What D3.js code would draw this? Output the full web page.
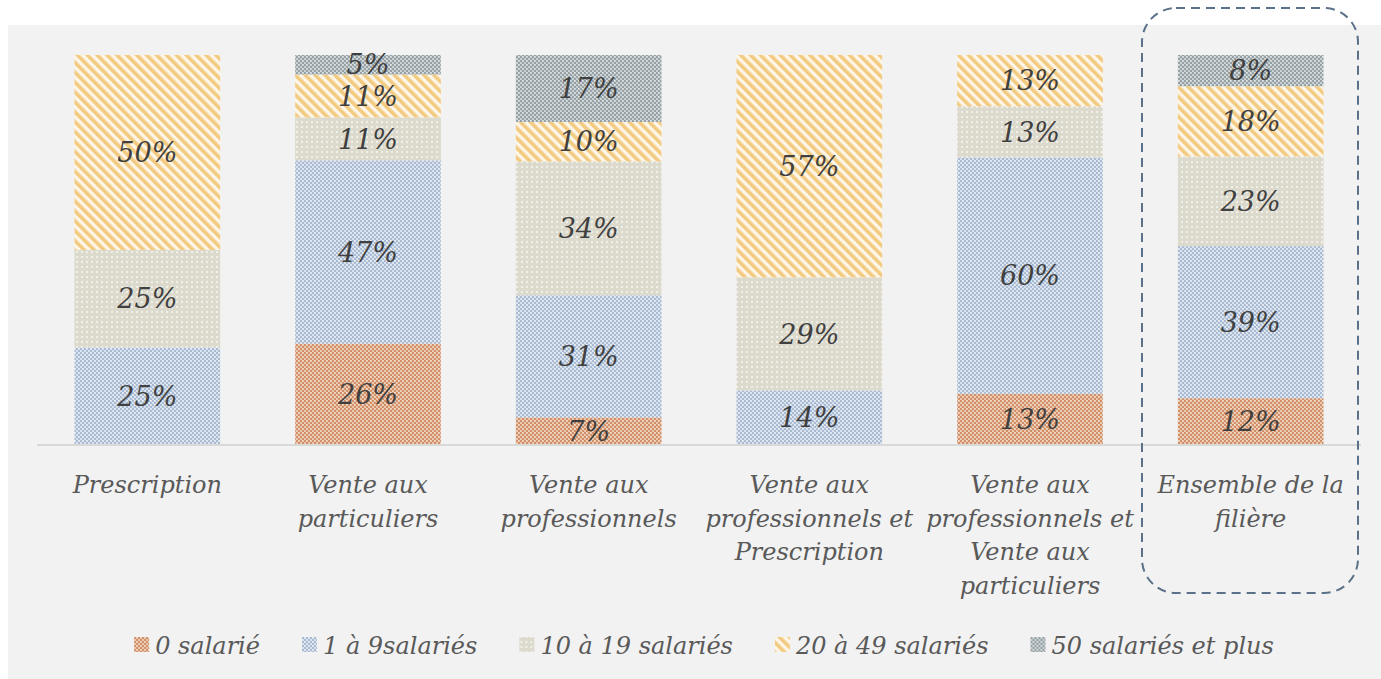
<!DOCTYPE html>
<html lang="fr">
<head>
<meta charset="UTF-8">
<title>Répartition par taille d'entreprise</title>
<script src="https://d3js.org/d3.v7.min.js"></script>
<style>
    body { margin: 0; background: #fff; }
    text { font-family: "DejaVu Serif", serif; font-style: italic; }
</style>
</head>
<body>
<script>
    // catégories (lignes de l'étiquette d'axe)
    const categories = ["Prescription", "Vente aux particuliers", "Vente aux professionnels",
        "Vente aux professionnels et Prescription", "Vente aux professionnels et Vente aux particuliers",
        "Ensemble de la filière"];
    const categoryLines = [
        ["Prescription"],
        ["Vente aux", "particuliers"],
        ["Vente aux", "professionnels"],
        ["Vente aux", "professionnels et", "Prescription"],
        ["Vente aux", "professionnels et", "Vente aux", "particuliers"],
        ["Ensemble de la", "filière"]
    ];
    const seriesNames = ["0 salarié", "1 à 9salariés", "10 à 19 salariés", "20 à 49 salariés", "50 salariés et plus"];
    // valeurs en %, une liste par série
    const s0 = [0, 26, 7, 0, 13, 12];
    const s1 = [25, 47, 31, 14, 60, 39];
    const s2 = [25, 11, 34, 29, 13, 23];
    const s3 = [50, 11, 10, 57, 13, 18];
    const s4 = [0, 5, 17, 0, 0, 8];
    const series = [s0, s1, s2, s3, s4];

    const W = 1381, H = 679;
    const svg = d3.select("body").append("svg").attr("width", W).attr("height", H);

    // motifs de remplissage
    const defs = svg.append("defs");
    function checker(id, c1, c2, dot) {
        const p = defs.append("pattern").attr("id", id).attr("patternUnits", "userSpaceOnUse")
            .attr("width", 4).attr("height", 4);
        p.append("rect").attr("width", 4).attr("height", 4).attr("fill", c1);
        p.append("rect").attr("width", 2).attr("height", 2).attr("fill", c2);
        p.append("rect").attr("x", 2).attr("y", 2).attr("width", 2).attr("height", 2).attr("fill", c2);
        if (dot) p.append("rect").attr("x", 2).attr("y", 0).attr("width", 1).attr("height", 1).attr("fill", dot);
    }
    checker("pat0", "#ebc8b0", "#d08f66", "#f6e6dc");
    checker("pat1", "#d9e2ed", "#a8bbd2", "#f0f4f8");
    checker("pat4", "#cbd1d3", "#95a1a5", "#e8ebec");

    const pDots = defs.append("pattern").attr("id", "pat2").attr("patternUnits", "userSpaceOnUse")
        .attr("width", 5).attr("height", 5);
    pDots.append("rect").attr("width", 5).attr("height", 5).attr("fill", "#dcd9cd");
    pDots.append("rect").attr("x", 1).attr("y", 1).attr("width", 2).attr("height", 2).attr("fill", "#f1efea");

    const pStripe = defs.append("pattern").attr("id", "pat3").attr("patternUnits", "userSpaceOnUse")
        .attr("width", 7).attr("height", 7).attr("patternTransform", "rotate(-45)");
    pStripe.append("rect").attr("width", 7).attr("height", 7).attr("fill", "#fdf6e8");
    pStripe.append("rect").attr("width", 3.6).attr("height", 7).attr("fill", "#f2ca80");

    const fills = ["url(#pat0)", "url(#pat1)", "url(#pat2)", "url(#pat3)", "url(#pat4)"];

    // fond
    svg.append("rect").attr("x", 8).attr("y", 25).attr("width", W - 8).attr("height", H - 25).attr("fill", "#f2f2f2");

    const table = categories.map((c, i) => {
        const row = { cat: c };
        seriesNames.forEach((s, j) => row[s] = series[j][i]);
        return row;
    });

    const stacked = d3.stack().keys(seriesNames).offset(d3.stackOffsetExpand)(table);

    const x = d3.scaleBand().domain(categories).range([37, 1361]).paddingInner(0.34).paddingOuter(0.17);
    const y = d3.scaleLinear().domain([0, 1]).range([445, 55]);

    const layers = svg.append("g").selectAll("g").data(stacked).join("g")
        .attr("fill", (d, i) => fills[i]);

    layers.selectAll("rect").data(d => d).join("rect")
        .attr("x", d => x(d.data.cat))
        .attr("y", d => y(d[1]))
        .attr("width", x.bandwidth())
        .attr("height", d => y(d[0]) - y(d[1]));

    // étiquettes de données
    const labels = svg.append("g");
    stacked.forEach(layer => {
        layer.forEach(d => {
            const v = d.data[layer.key];
            if (!v) return;
            labels.append("text")
                .attr("x", x(d.data.cat) + x.bandwidth() / 2)
                .attr("y", (y(d[0]) + y(d[1])) / 2)
                .attr("dy", "0.36em")
                .attr("text-anchor", "middle")
                .attr("fill", "#404040")
                .style("font-size", "27px")
                .text(v + "%");
        });
    });

    // axe horizontal
    svg.append("line").attr("x1", 37).attr("x2", 1361).attr("y1", 445).attr("y2", 445)
        .attr("stroke", "#d9d9d9").attr("stroke-width", 2);

    const catLabels = svg.append("g");
    categories.forEach((c, i) => {
        const t = catLabels.append("text")
            .attr("x", x(c) + x.bandwidth() / 2)
            .attr("y", 494)
            .attr("text-anchor", "middle")
            .attr("fill", "#595959")
            .style("font-size", "24px");
        categoryLines[i].forEach((ln, k) => {
            t.append("tspan").attr("x", x(c) + x.bandwidth() / 2).attr("y", 493 + k * 33.7).text(ln);
        });
    });

    // cadre pointillé autour de "Ensemble de la filière"
    svg.append("rect")
        .attr("x", 1142).attr("y", 8).attr("width", 216).attr("height", 585)
        .attr("rx", 34).attr("ry", 34)
        .attr("fill", "none").attr("stroke", "#5b7089").attr("stroke-width", 2)
        .attr("stroke-dasharray", "9,6");

    // légende
    const legend = svg.append("g");
    let lx = 0;
    seriesNames.forEach((s, i) => {
        const g = legend.append("g").attr("transform", `translate(${lx},0)`);
        g.append("rect").attr("x", 0).attr("y", -8).attr("width", 15).attr("height", 15).attr("fill", fills[i]);
        const t = g.append("text").attr("x", 21).attr("y", 0).attr("dy", "0.36em")
            .attr("fill", "#595959").style("font-size", "24px").text(s);
        lx += 21 + t.node().getComputedTextLength() + 42;
    });
    const total = lx - 42;
    legend.attr("transform", `translate(${704 - total / 2},645)`);
</script>
</body>
</html>
